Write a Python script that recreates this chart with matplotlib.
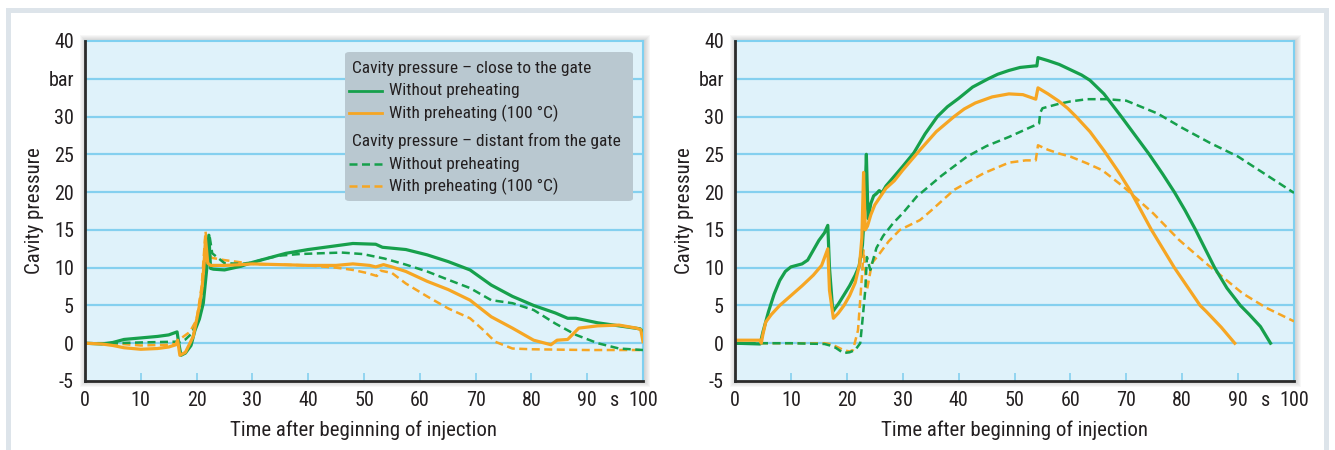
import matplotlib
matplotlib.use("Agg")
import matplotlib.pyplot as plt
from matplotlib import font_manager as fm
from matplotlib.patches import Rectangle, FancyBboxPatch
from matplotlib.lines import Line2D

# ---------------- font choice (narrow face if available) ----------------
_names = {f.name for f in fm.fontManager.ttflist}
FONT_NAME = 'Roboto'
for cand in ['Roboto Condensed', 'Liberation Sans Narrow', 'Open Sans Condensed', 'DejaVu Sans Condensed']:
    if cand in _names:
        FONT_NAME = cand
        break
plt.rcParams['font.family'] = [FONT_NAME, 'DejaVu Sans']

# ---------------- data ----------------
x_ticks = [0, 10, 20, 30, 40, 50, 60, 70, 80, 90, 95, 100]
x_tick_labels = ['0', '10', '20', '30', '40', '50', '60', '70', '80', '90', 's', '100']
y_ticks = [-5, 0, 5, 10, 15, 20, 25, 30, 35, 40]
y_tick_labels = ['-5', '0', '5', '10', '15', '20', '25', '30', 'bar', '40']

xlabel = 'Time after beginning of injection'
ylabel = 'Cavity pressure'

legend_head_close = 'Cavity pressure \u2013 close to the gate'
legend_head_distant = 'Cavity pressure \u2013 distant from the gate'
label_without = 'Without preheating'
label_with = 'With preheating (100 \u00b0C)'

# Left chart
L_close_without_x = [0, 3, 5, 7, 10, 13, 15, 16.5, 16.8, 17.2, 18, 19, 19.7, 20.5, 21.2, 21.8, 22.2, 22.5,
                     23, 25, 28, 30, 33, 36, 40, 44, 48, 52.1, 53.3, 57.5, 61.3, 65.1, 69, 72.8, 76.6,
                     80.4, 84.3, 86.5, 88, 91.9, 95.7, 99.5, 100]
L_close_without_y = [0, -0.1, 0.1, 0.5, 0.7, 0.9, 1.1, 1.5, 0, -1.6, -1.3, -0.3, 1.7, 3.2, 5.3, 9.7, 14.3, 9.9,
                     9.8, 9.7, 10.2, 10.7, 11.3, 11.9, 12.4, 12.8, 13.2, 13.1, 12.7, 12.4, 11.7, 10.8, 9.7,
                     7.7, 6.2, 5.0, 4.0, 3.3, 3.3, 2.7, 2.3, 1.9, 1.5]

L_close_with_x = [0, 3, 5, 7, 10, 13, 15, 16.3, 16.6, 17.0, 18, 19.4, 20.6, 21.0, 21.3, 21.6, 22.0, 22.5,
                  25, 28, 30, 35, 40, 45, 48, 51, 52.1, 53.5, 55, 57.5, 61.3, 65.1, 69, 72.8, 76.6, 80.4,
                  83.5, 84.6, 86.5, 88.5, 91.9, 95.7, 98.8, 99.6, 100]
L_close_with_y = [0, -0.1, -0.3, -0.6, -0.8, -0.7, -0.5, -0.2, 0.4, -1.6, -1.2, 0.9, 5.3, 7.5, 10.1, 13.8,
                  10.6, 10.3, 10.3, 10.4, 10.5, 10.4, 10.3, 10.3, 10.5, 10.3, 10.1, 10.4, 10.1, 9.5, 8.2,
                  7.1, 5.7, 3.5, 2.0, 0.4, -0.2, 0.4, 0.5, 2.0, 2.3, 2.4, 2.0, 1.8, 0.2]

L_dist_without_x = [0, 5, 10, 16, 17, 18, 19, 20, 21, 21.7, 22.3, 22.8, 25, 28, 30, 33, 35, 38.4, 42, 46,
                    49.8, 53.7, 57.5, 61.3, 65.1, 69, 72.8, 76.6, 80.4, 84.3, 88, 91.9, 95.7, 100]
L_dist_without_y = [0, 0, 0.1, 0.2, 0.2, 0.5, 1.2, 2.5, 5.5, 10, 14.3, 11.9, 10.6, 10.5, 10.7, 11.3, 11.6,
                    11.8, 11.9, 12.0, 11.8, 11.2, 10.4, 9.5, 8.4, 7.3, 5.7, 5.3, 4.4, 2.6, 1.1, 0.0, -0.7,
                    -0.9]

L_dist_with_x = [0, 5, 10, 15, 16.3, 16.5, 17.3, 18.8, 20, 20.9, 21.6, 22.0, 22.7, 25, 28, 30, 35, 40, 45,
                 48, 50.5, 52.3, 53, 55, 57.5, 61.3, 65.1, 69, 71.3, 73.5, 76.6, 80, 90, 100]
L_dist_with_y = [0, 0, -0.3, -0.2, 0, 0.3, 0.7, 1.5, 3.1, 7.5, 14.8, 12.0, 11.3, 11.0, 10.7, 10.5, 10.4,
                 10.3, 10.0, 9.7, 9.3, 8.9, 9.6, 9.3, 7.9, 6.2, 4.6, 3.3, 1.8, 0.2, -0.7, -0.8, -0.9, -0.9]

# Right chart
R_close_without_x = [0, 4.5, 5, 6, 7, 8, 9, 10, 11, 12, 13, 14, 15, 16, 16.6, 16.9, 17.5, 18.5, 19.5, 20.5,
                     21.5, 22.2, 22.8, 23.2, 23.5, 23.8, 24.3, 24.8, 25.3, 25.8, 26.3, 27, 30, 32, 34,
                     36.2, 38, 40, 42.5, 45.3, 47, 49, 51, 53.6, 54.0, 54.2, 56, 58, 60, 62, 63.5, 66,
                     69.1, 71.5, 74.1, 76.5, 78.6, 80.5, 82.4, 85.8, 88, 90.4, 92, 94, 95.8]
R_close_without_y = [0, -0.1, 1.5, 4.2, 6.5, 8.3, 9.5, 10.1, 10.3, 10.5, 11.0, 12.3, 13.6, 14.6, 15.6, 10,
                     4.2, 5.2, 6.4, 7.6, 9.0, 10.2, 13.0, 18, 25.0, 16.5, 18.5, 19.5, 19.8, 20.2, 19.9,
                     20.8, 23.4, 25.2, 27.7, 30.0, 31.3, 32.4, 33.9, 35.0, 35.6, 36.1, 36.5, 36.7, 36.7,
                     37.8, 37.4, 36.9, 36.2, 35.5, 34.8, 33.0, 30.0, 27.6, 25.0, 22.4, 20.0, 17.6, 15.0,
                     10.0, 7.3, 5.0, 3.8, 2.2, 0]

R_close_with_x = [0, 4.5, 4.7, 5.0, 5.5, 6.5, 8, 10, 12, 14, 15.5, 16.6, 16.9, 17.6, 18.5, 19.5, 20.5,
                  21.5, 22.3, 22.7, 23.0, 23.3, 23.7, 24.3, 25, 27, 28.5, 30, 33, 36, 39.2, 41, 43, 46, 49,
                  51.5, 53.8, 54.2, 56, 58, 59.5, 61, 63.5, 66, 68.5, 70.7, 74.5, 78.6, 83.2, 84.3, 87,
                  89.4]
R_close_with_y = [0.4, 0.4, 0, 1.2, 2.8, 3.8, 5.0, 6.3, 7.6, 9.0, 10.3, 12.5, 7, 3.3, 4.0, 5.0, 6.3, 8.0,
                  10.5, 14, 22.6, 15, 15.5, 17.0, 18.3, 20.5, 21.5, 22.9, 25.5, 28, 30.0, 31.0, 31.8,
                  32.6, 33.0, 32.9, 32.3, 33.8, 33.0, 32.0, 31.1, 30.0, 28.0, 25.5, 22.8, 20.2, 15.0,
                  10.0, 5.0, 4.2, 2.1, 0]

R_dist_without_x = [0, 10, 16, 17, 18, 19.4, 20.5, 21.5, 22.4, 22.8, 23.3, 23.6, 24.2, 25.3, 26.5, 28.3,
                    30, 32.5, 37, 41.5, 45, 49, 52, 54.4, 54.6, 55, 58, 60, 63, 66.5, 70, 75.6, 80, 85,
                    90, 95, 100]
R_dist_without_y = [0, 0, -0.1, -0.3, -0.6, -1.3, -1.2, -0.9, 0.0, 3.0, 7.0, 11.4, 9.7, 12.6, 14.2, 15.9,
                    17.2, 19.4, 22.2, 24.7, 26.1, 27.3, 28.3, 29.1, 30.5, 31.1, 31.7, 32.0, 32.3, 32.3,
                    32.1, 30.4, 28.5, 26.5, 24.7, 22.3, 19.9]

R_dist_with_x = [0, 10, 16, 17, 18, 19.4, 20.5, 21.1, 22.0, 22.7, 23.0, 23.3, 23.6, 24.5, 25.9, 27.5,
                 29.5, 33.1, 35, 39.2, 44.5, 49, 52, 53.8, 54.2, 56, 58, 60, 63, 65.7, 69.5, 74.8, 79.4,
                 84.7, 90.8, 95, 100]
R_dist_with_y = [0, 0, 0, -0.1, -0.4, -0.9, -1.1, -0.9, 1.7, 8.8, 12.3, 9.5, 7, 10.6, 11.9, 13.5, 15,
                 16.3, 17.5, 20.3, 22.5, 23.9, 24.2, 24.2, 26.2, 25.6, 25.1, 24.7, 23.8, 22.9, 20.7, 17.2,
                 13.7, 10.3, 6.6, 4.7, 2.9]

# ---------------- style ----------------
GREEN = '#16a04c'
ORANGE = '#f6a623'
AX_BG = '#dff2fa'
GRID = '#84d0ef'
TEXT = '#231f20'
FRAME = '#dde4ea'
LEG_BG = '#b9c8d0'
DASH = (3.2, 1.8)
TICK_FS = 14.5
LABEL_FS = 15
LEG_FS = 12.5

W, H = 1335, 450
fig = plt.figure(figsize=(W / 100, H / 100), dpi=100)
fig.patch.set_facecolor('white')

# outer frame
fig.add_artist(Rectangle((6 / W, 0), (1329 - 6) / W, (H - 8) / H, transform=fig.transFigure,
                         facecolor=FRAME, edgecolor='none', zorder=-10))
fig.add_artist(Rectangle((11 / W, 0), (1324 - 11) / W, (H - 13) / H, transform=fig.transFigure,
                         facecolor='white', edgecolor='none', zorder=-9))


def make_axes(px_left, px_right, px_top, px_bottom):
    rect = [px_left / W, (H - px_bottom) / H, (px_right - px_left) / W, (px_bottom - px_top) / H]
    for k in range(1, 7):
        fig.add_artist(Rectangle(((px_left - k + 1) / W, (H - px_bottom - k) / H),
                                 (px_right - px_left + 2 * k) / W, (px_bottom - px_top + 2 * k) / H,
                                 transform=fig.transFigure, facecolor='#7a7a7a', edgecolor='none',
                                 alpha=0.06, zorder=-5))
    ax = fig.add_axes(rect)
    ax.set_facecolor(AX_BG)
    ax.set_xlim(0, 100)
    ax.set_ylim(-5, 40)
    ax.set_yticks(y_ticks)
    ax.set_yticklabels(y_tick_labels)
    ax.set_xticks(x_ticks)
    ax.set_xticklabels(x_tick_labels)
    ax.tick_params(axis='y', length=0, pad=8, labelsize=TICK_FS, labelcolor=TEXT)
    ax.tick_params(axis='x', direction='in', length=6, width=1.2, color=GRID, pad=7,
                   labelsize=TICK_FS, labelcolor=TEXT)
    for i, t in enumerate(ax.xaxis.get_major_ticks()):
        if x_tick_labels[i] == 's':
            t.tick1line.set_visible(False)
    for yv in y_ticks[1:-1]:
        ax.axhline(yv, color=GRID, lw=1.6, zorder=1)
    for side in ('left', 'bottom'):
        ax.spines[side].set_color('#2b2b2b')
        ax.spines[side].set_linewidth(2.0)
        ax.spines[side].set_zorder(5)
    for side in ('top', 'right'):
        ax.spines[side].set_color('#7fd0f0')
        ax.spines[side].set_linewidth(1.5)
    ax.set_xlabel(xlabel, fontsize=LABEL_FS, color=TEXT, va='center')
    ax.set_ylabel(ylabel, fontsize=LABEL_FS, color=TEXT, va='center')
    w = px_right - px_left
    ax.xaxis.set_label_coords(0.5, (px_bottom - 430) / (px_bottom - px_top))
    ax.yaxis.set_label_coords((px_left - 50 - px_left + 0) / w, 0.5)
    return ax


axL = make_axes(85, 643, 41, 381)
axR = make_axes(735, 1294, 41, 381)

for ax, (cwo, cw, dwo, dw) in (
        (axL, ((L_close_without_x, L_close_without_y), (L_close_with_x, L_close_with_y),
               (L_dist_without_x, L_dist_without_y), (L_dist_with_x, L_dist_with_y))),
        (axR, ((R_close_without_x, R_close_without_y), (R_close_with_x, R_close_with_y),
               (R_dist_without_x, R_dist_without_y), (R_dist_with_x, R_dist_with_y)))):
    ax.plot(dw[0], dw[1], color=ORANGE, lw=1.8, dashes=DASH, zorder=3)
    ax.plot(dwo[0], dwo[1], color=GREEN, lw=1.8, dashes=DASH, zorder=3)
    ax.plot(cwo[0], cwo[1], color=GREEN, lw=2.3, zorder=4, solid_joinstyle='round')
    ax.plot(cw[0], cw[1], color=ORANGE, lw=2.3, zorder=4, solid_joinstyle='round')

# ---------------- legend box (left chart) ----------------
lx0, lx1 = 345, 633
ly0, ly1 = 52, 201


def ax_xy(px, py):
    return ((px - 85) / (643 - 85), (381 - py) / (381 - 41))


bx, by = ax_xy(lx0, ly1)
bx2, by2 = ax_xy(lx1, ly0)
axL.add_patch(FancyBboxPatch((bx, by), bx2 - bx, by2 - by, transform=axL.transAxes,
                             boxstyle='round,pad=0,rounding_size=0.008', facecolor=LEG_BG,
                             edgecolor='none', zorder=6))

rows = [
    (68, legend_head_close, None, None),
    (91, label_without, GREEN, None),
    (113, label_with, ORANGE, None),
    (141, legend_head_distant, None, None),
    (164, label_without, GREEN, DASH),
    (186, label_with, ORANGE, DASH),
]
for py, txt, col, dash in rows:
    if col is None:
        tx, ty = ax_xy(352, py)
    else:
        a, ty = ax_xy(349, py)
        b, _ = ax_xy(382, py)
        kw = dict(color=col, lw=2.0 if dash is None else 1.8, transform=axL.transAxes, zorder=7)
        if dash is not None:
            kw['dashes'] = dash
        axL.add_line(Line2D([a, b], [ty, ty], **kw))
        tx, _ = ax_xy(389, py)
    axL.text(tx, ty, txt, transform=axL.transAxes, ha='left', va='center', fontsize=LEG_FS,
             color=TEXT, zorder=7)

fig.savefig('out.png', dpi=100, facecolor=fig.get_facecolor())
